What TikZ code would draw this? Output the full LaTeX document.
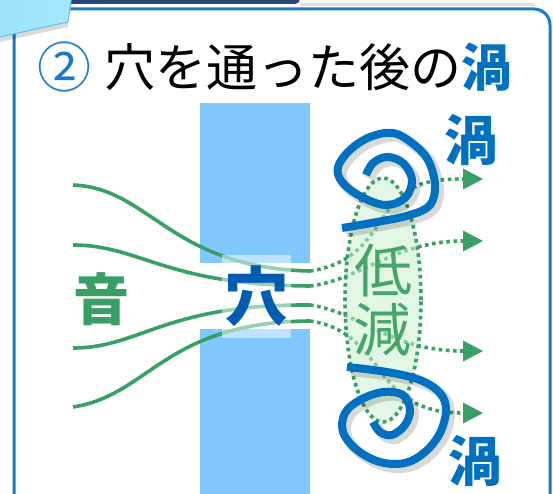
\documentclass[tikz,border=0pt]{standalone}
\usepackage{fontspec}
\newfontfamily\jpfont{Noto Sans CJK JP}
\usetikzlibrary{arrows.meta}

\definecolor{flowgreen}{RGB}{56,160,100}
\definecolor{lowtext}{RGB}{70,165,105}
\definecolor{lowfill}{RGB}{200,238,205}
\definecolor{wallblue}{RGB}{128,200,255}
\definecolor{vortexblue}{RGB}{0,112,192}
\definecolor{holeblue}{RGB}{0,92,176}
\definecolor{frameblue}{RGB}{30,120,200}
\definecolor{tabcyan}{RGB}{165,232,252}
\definecolor{tabedge}{RGB}{95,190,236}
\definecolor{barnavy}{RGB}{40,70,120}

\begin{document}
\begin{tikzpicture}[x=1pt,y=-1pt,
    line/.style={flowgreen,line width=3.6pt},
    flow/.style={flowgreen,line width=3.6pt,dash pattern=on 3.6pt off 3.6pt},
    tip/.style={-{Triangle[length=20pt,width=21pt,line width=0pt]}},
    vortex/.style={vortexblue,line width=8pt,line join=round},
    shadow/.style={black,line width=10pt,opacity=0.15,line join=round},
    jp/.style={inner sep=0pt,font=\jpfont\fontsize{#1}{#1}\selectfont},
    jpbold/.style={inner sep=0pt,font=\jpfont\bfseries\fontsize{#1}{#1}\selectfont}]
  \useasboundingbox (0,0) rectangle (553,494);

  % wall with the hole
  \fill[wallblue] (200,103) rectangle (310,263);
  \fill[wallblue] (200,329) rectangle (310,494);

  % sound lines up to the hole
  \coordinate (s1) at (73,185);  \coordinate (h1) at (310,271);
  \coordinate (s2) at (73,245);  \coordinate (h2) at (310,286);
  \coordinate (s3) at (73,348);  \coordinate (h3) at (310,305);
  \coordinate (s4) at (73,407);  \coordinate (h4) at (310,321);
  \draw[line] (s1) .. controls (150,188) and (170,268) .. (h1);
  \draw[line] (s2) .. controls (140,245) and (165,285) .. (h2);
  \draw[line] (s3) .. controls (140,348) and (165,304) .. (h3);
  \draw[line] (s4) .. controls (150,395) and (165,322) .. (h4);
  \fill[white,opacity=.5] (222,255) rectangle (291,338);

  % lines behind the hole
  \coordinate (e1) at (483,179);
  \coordinate (e2) at (483,241);
  \coordinate (e3) at (483,351);
  \coordinate (e4) at (483,413);
  \draw[flow,tip] (h1) .. controls (350,265) and (365,245) .. (385,215)
    .. controls (405,185) and (425,179) .. (e1);
  \draw[flow,tip] (h2) .. controls (360,280) and (395,241) .. (e2);
  \draw[flow,tip] (h3) .. controls (360,312) and (390,351) .. (e3);
  \draw[flow,tip] (h4) .. controls (345,326) and (360,345) .. (380,370)
    .. controls (400,400) and (425,413) .. (e4);

  % region where the sound drops
  \draw[flow,fill=lowfill,fill opacity=.55] (383,300) ellipse [x radius=38pt,y radius=122pt];
  \node[jp=58,text=lowtext] (low1) at (383,271) {低};
  \node[jp=58,text=lowtext] (low2) at (382,330) {減};

  % vortices
  \def\topvortex{(342,228) (377,222) (410,215) (430,205) (435,185) (428,160)
    (412,143) (393,133) (370,137) (350,150) (338,167) (342,182) (360,196)
    (385,205) (405,198) (412,180) (403,163) (387,157) (373,163) (366,175)}
  \def\lowvortex{(347,367) (387,372) (420,380) (440,393) (446,410) (440,433)
    (425,452) (405,463) (380,462) (357,450) (343,432) (345,413) (360,400)
    (383,392) (403,395) (410,410) (405,425) (392,435) (380,432) (373,422)}
  \draw[shadow,xshift=4pt,yshift=-4pt] plot[smooth,tension=.6] coordinates {\topvortex};
  \draw[shadow,xshift=4pt,yshift=-4pt] plot[smooth,tension=.6] coordinates {\lowvortex};
  \draw[vortex] plot[smooth,tension=.6] coordinates {\topvortex};
  \draw[vortex] plot[smooth,tension=.6] coordinates {\lowvortex};

  % labels
  \node[jpbold=56,text=flowgreen] (sound) at (101,299) {音};
  \node[jpbold=64,text=holeblue] (hole) at (256,296) {穴};
  \node[jpbold=54,text=vortexblue] (vtop) at (471,140) {渦};
  \node[jpbold=54,text=vortexblue] (vlow) at (475,461) {渦};

  % frame and heading
  \draw[black,opacity=.12,line width=3pt] (300,5) -- (535,5);
  \draw[frameblue,line width=3pt,rounded corners=16pt] (14,560) -- (14,9) -- (550,9) -- (550,560);
  \fill[barnavy,rounded corners=5pt] (60,-10) rectangle (300,4);
  \fill[black,opacity=.15] (-5,38) -- (68,22) -- (68,27) -- (-5,43) -- cycle;
  \shade[left color=tabcyan!85!tabedge,right color=tabcyan] (-5,-5) -- (72,-5) -- (68,22) -- (-5,38) -- cycle;
  \draw[tabedge,line width=1pt] (72,-5) -- (68,22) -- (-5,38);
  \node[jp=54,text=frameblue] (num) at (64,67) {②};
  \node[jp=51] (title) at (308,67) {穴を通った後の{\bfseries\color{vortexblue}渦}};
\end{tikzpicture}
\end{document}
